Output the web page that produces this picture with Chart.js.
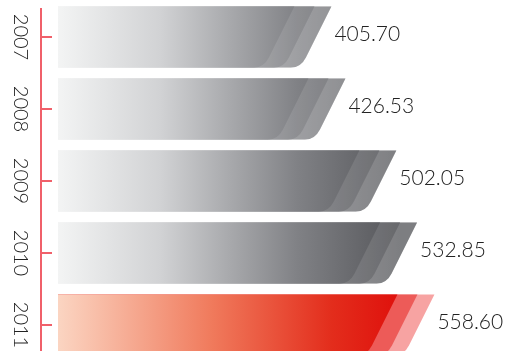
<!DOCTYPE html>
<html>
<head>
<meta charset="utf-8">
<script src="https://cdn.jsdelivr.net/npm/chart.js@4/dist/chart.umd.min.js"></script>
<style>
  html, body { margin: 0; padding: 0; background: #fff; overflow: hidden; }
  #wrap { width: 510px; height: 351px; overflow: hidden; }
</style>
</head>
<body>
<div id="wrap"><canvas id="myChart" width="510" height="362"></canvas></div>
<script>
// data
const years = ['2007', '2008', '2009', '2010', '2011'];
const values = [405.70, 426.53, 502.05, 532.85, 558.60];
const valueLabels = ['405.70', '426.53', '502.05', '532.85', '558.60'];
const highlightIndex = 4; // 2011 in red

// draws the slanted, layered bars, the red axis and the labels
const slantBars = {
    id: 'slantBars',
    beforeDatasetDraw: function() {
        return false; // we draw the bars ourselves
    },
    afterDatasetsDraw: function(chart) {
        const ctx = chart.ctx;
        const area = chart.chartArea;
        const meta = chart.getDatasetMeta(0);
        const yScale = chart.scales.y;

        // gradients across the chart
        const gray = ctx.createLinearGradient(area.left, 0, 400, 0);
        gray.addColorStop(0, '#f3f4f4');
        gray.addColorStop(0.3, '#d1d2d4');
        gray.addColorStop(0.7, '#808185');
        gray.addColorStop(1, '#55565a');
        const red = ctx.createLinearGradient(area.left, 0, 400, 0);
        red.addColorStop(0, '#fbd5c2');
        red.addColorStop(0.45, '#f07a5c');
        red.addColorStop(0.8, '#e32d1c');
        red.addColorStop(1, '#df100c');

        function shape(left, right, top, bottom) {
            const h = bottom - top;
            const s = 0.5;
            const r = 10;
            ctx.beginPath();
            ctx.moveTo(left, top);
            ctx.lineTo(right, top);
            ctx.lineTo(right - s * (h - r), bottom - r);
            ctx.quadraticCurveTo(right - s * h, bottom, right - s * h - r, bottom);
            ctx.lineTo(left, bottom);
            ctx.closePath();
        }

        ctx.save();
        meta.data.forEach(function(bar, i) {
            const p = bar.getProps(['x', 'y', 'base', 'height'], true);
            const top = p.y - p.height / 2;
            const bottom = p.y + p.height / 2;
            const left = p.base;
            const isRed = i === highlightIndex;
            const layers = [0, 17, 37];

            layers.forEach(function(off, k) {
                shape(left, p.x - off, top, bottom);
                if (isRed) {
                    ctx.fillStyle = k === 0 ? '#f7a3a2' : (k === 1 ? '#ed5b58' : red);
                    ctx.fill();
                } else {
                    ctx.fillStyle = gray;
                    ctx.fill();
                    if (k < 2) {
                        ctx.fillStyle = k === 0 ? 'rgba(255,255,255,0.24)' : 'rgba(255,255,255,0.11)';
                        ctx.fill();
                    }
                }
            });

            // value label
            ctx.fillStyle = '#222';
            ctx.font = '300 21px Lato';
            ctx.textAlign = 'left';
            ctx.textBaseline = 'middle';
            ctx.fillText(valueLabels[i], p.x + 3, p.y - 3);
        });

        // red axis with ticks pointing into the chart
        const axisX = yScale.right - 17;
        ctx.strokeStyle = '#f0606a';
        ctx.lineWidth = 2;
        ctx.beginPath();
        ctx.moveTo(axisX, 8);
        ctx.lineTo(axisX, chart.height);
        ctx.stroke();
        years.forEach(function(y, i) {
            const ty = yScale.getPixelForTick(i);
            ctx.beginPath();
            ctx.moveTo(axisX, ty);
            ctx.lineTo(axisX + 11, ty);
            ctx.stroke();

            // year label, rotated clockwise
            ctx.save();
            ctx.translate(yScale.left + 14, ty);
            ctx.rotate(Math.PI / 2);
            ctx.fillStyle = '#222';
            ctx.font = '300 20px Lato';
            ctx.textAlign = 'center';
            ctx.textBaseline = 'alphabetic';
            ctx.fillText(y, 0, 0);
            ctx.restore();
        });
        ctx.restore();
    }
};

const ctx = document.getElementById('myChart').getContext('2d');
new Chart(ctx, {
    type: 'bar',
    data: {
        labels: years,
        datasets: [{
            data: values,
            backgroundColor: 'transparent',
            categoryPercentage: 1,
            barPercentage: 0.847
        }]
    },
    options: {
        indexAxis: 'y',
        responsive: false,
        animation: false,
        layout: { padding: { top: 1, bottom: 1, left: 0, right: 14 } },
        plugins: {
            legend: { display: false },
            tooltip: { enabled: false }
        },
        scales: {
            x: {
                display: false,
                min: 0,
                max: 650
            },
            y: {
                offset: true,
                grid: { display: false },
                border: { display: false },
                ticks: { display: false },
                afterFit: function(scale) {
                    scale.width = 58;
                }
            }
        }
    },
    plugins: [slantBars]
});
</script>
</body>
</html>
